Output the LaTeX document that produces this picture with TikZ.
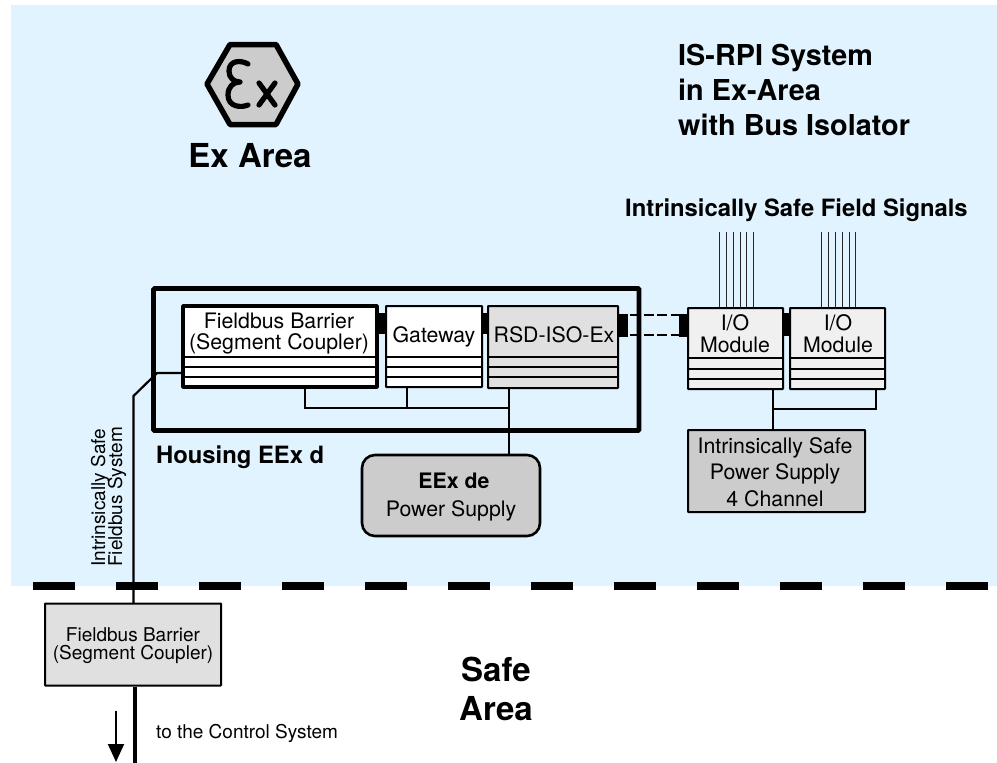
\documentclass[tikz,border=0pt]{standalone}
\usepackage{fontspec}
\setmainfont{TeX Gyre Heros}
\usetikzlibrary{arrows.meta}
\definecolor{skybg}{HTML}{E0F3FE}
\definecolor{lightg}{HTML}{E0E0E0}
\definecolor{paleg}{HTML}{F0F0F0}
\definecolor{midg}{HTML}{CCCCCC}
\newcommand{\fs}[1]{\fontsize{#1}{#1}\selectfont}
\tikzset{
 x=1pt,y=-1pt,
 band/.style={draw=black,line width=2pt},
 wire/.style={draw=black,line width=1.3pt},
 sig/.style={draw=black!85,line width=1pt},
 dashwire/.style={draw=black,line width=2.8pt,dash pattern=on 10pt off 3.5pt},
 housing/.style={draw=black,line width=4.6pt,rounded corners=1pt},
 boxa/.style={draw=black,line width=2pt,rounded corners=0.5pt,inner sep=0pt},
 txt/.style={inner sep=0pt,anchor=base,font=\fs{21.3}},
 small/.style={inner sep=0pt,anchor=base,font=\fs{19}},
 head/.style={inner sep=0pt,anchor=base west,font=\fs{28.8}\bfseries},
 subhead/.style={inner sep=0pt,anchor=base west,font=\fs{23.8}\bfseries},
 big/.style={inner sep=0pt,anchor=base,font=\fs{33}\bfseries},
 exglyph/.style={draw=black,line width=5.2pt,line cap=round,line join=round},
}
\begin{document}
\begin{tikzpicture}
\useasboundingbox (0,0) rectangle (997,763);
\fill[white] (0,0) rectangle (997,763);
\fill[skybg] (11,5) rectangle (997,586);
% signal lines
\foreach \sx in {719,726,733,740,746,753,821,828,835,842,849,855} {\draw[sig] (\sx,232) -- (\sx,307);}
% field bus
\coordinate (busjoin) at (157,373);
\coordinate (buskink) at (133.5,396);
% housing
\draw[housing] (153.5,288.5) rectangle (639,430.5);
% lines
\coordinate (hbusL) at (305,408);
\coordinate (hbusG) at (407,408);
\coordinate (hbusR) at (509,408);
\draw[wire] (305,389) -- (hbusL) -- (hbusR);
\draw[wire] (407,388) -- (hbusG);
% plugs
\fill[black] (379,313) rectangle (386,334);
\fill[black] (483,313) rectangle (488,334);
\fill[black] (619,314) rectangle (628,337);
\fill[black] (679,314) rectangle (688,337);
\fill[black] (784,313) rectangle (789,336);
\draw[dashwire] (630,315) -- (680,315);
\draw[dashwire] (630,335) -- (680,335);
% Barrier
\node[draw=black,line width=3.6pt,fill=white,minimum width=194pt,minimum height=81pt,inner sep=0pt,rounded corners=0.5pt] (barrier) at (280,346.5) {};
\draw[band] (183,357) -- (377,357) (183,367) -- (377,367) (183,377) -- (377,377);
\node[txt] (bt1) at (279,328) {Fieldbus Barrier};
\node[txt] (bt2) at (279,349.5) {(Segment Coupler)};
% Gateway
\node[boxa,fill=white,minimum width=96pt,minimum height=81pt] (gateway) at (434,346.5) {};
\draw[band] (386,357) -- (482,357) (386,367) -- (482,367) (386,377) -- (482,377);
\node[txt] (gt) at (434,342) {Gateway};
% RSD
\node[boxa,fill=lightg,minimum width=130pt,minimum height=82pt] (rsd) at (553,347) {};
\draw[band] (488,357) -- (618,357) (488,367) -- (618,367) (488,377) -- (618,377);
\node[txt] (rt) at (554,342) {RSD-ISO-Ex};
% IO
\node[boxa,fill=paleg,minimum width=95pt,minimum height=81pt] (io1) at (735.5,348.5) {};
\draw[band] (688,358) -- (783,358) (688,369) -- (783,369) (688,379) -- (783,379);
\node[txt] (io1a) at (735,330) {I/O};
\node[txt] (io1b) at (735,352) {Module};
\node[boxa,fill=paleg,minimum width=95pt,minimum height=81pt] (io2) at (837.5,348.5) {};
\draw[band] (790,358) -- (885,358) (790,369) -- (885,369) (790,379) -- (885,379);
\node[txt] (io2a) at (838,330) {I/O};
\node[txt] (io2b) at (838,352) {Module};
% IO wires
\draw[wire] (773,390) -- (773,409) -- (876,409) -- (876,390);
% power supply
\node[boxa,fill=midg,minimum width=177pt,minimum height=82pt] (ispower) at (776.5,471) {};
\draw[wire] (773,409) -- (773,430);
\node[txt] (p1) at (775,453) {Intrinsically Safe};
\node[txt] (p2) at (775,479.5) {Power Supply};
\node[txt] (p3) at (775,506) {4 Channel};
\node[draw=black,line width=2.6pt,fill=midg,rounded corners=13pt,minimum width=178pt,minimum height=81pt,inner sep=0pt] (eex) at (451,495.5) {};
\draw[wire] (509,389) -- (509,455);
\node[txt] (e1) at (454,488) {\bfseries EEx de};
\node[txt] (e2) at (451,516) {Power Supply};
% bus
\draw[black,line width=2.2pt] (barrier.west |- busjoin) -- (busjoin) -- (buskink) -- (133.5,603);
% boundary
\foreach \i in {0,...,11} {\fill[black] (33+83*\i,582) rectangle ++(41.5,8);}
% lower barrier
\node[boxa,fill=lightg,minimum width=176pt,minimum height=82pt] (lower) at (133,644.5) {};
\node[small] (l1) at (133,641) {Fieldbus Barrier};
\node[small] (l2) at (133,659) {(Segment Coupler)};
\coordinate (busend) at (135,763);
\draw[black,line width=3.6pt] (lower.south -| busend) -- (busend);
\coordinate (arrS) at (116,711);
\coordinate (arrE) at (116,762);
\draw[black,line width=2pt,-{Triangle[length=18pt,width=16pt]}] (arrS) -- (arrE);
\node[small,anchor=base west] (ctrl) at (156,738) {to the Control System};
\node[small,rotate=90,anchor=base west] (r1) at (105,567) {Intrinsically Safe};
\node[small,rotate=90,anchor=base west] (r2) at (122,567) {Fieldbus System};
% labels
\node[head] (t1) at (678,65) {IS-RPI System};
\node[head] (t2) at (678,100) {in Ex-Area};
\node[head] (t3) at (678,135) {with Bus Isolator};
\node[subhead] (t4) at (625,216) {Intrinsically Safe Field Signals};
\node[big] (exa) at (250,167) {Ex Area};
\node[subhead] (hs) at (156,463) {Housing EEx d};
\node[big] (s1) at (496,681) {Safe};
\node[big] (s2) at (496,720) {Area};
% Ex sign
\draw[black,line width=5.5pt,fill=midg,line join=round] (207,84) -- (230,44.5) -- (276,44.5) -- (298,84) -- (276,124.5) -- (230,124.5) -- cycle;
\draw[exglyph] (248,64) .. controls (241,60) and (229,60) .. (229,71) .. controls (229,78) and (234,82) .. (240,82) .. controls (233,82) and (228,87) .. (228,95) .. controls (228,107) and (241,108) .. (248,105);
\draw[exglyph] (259,83) -- (275,105) (275,83) -- (259,105);
\end{tikzpicture}
\end{document}
